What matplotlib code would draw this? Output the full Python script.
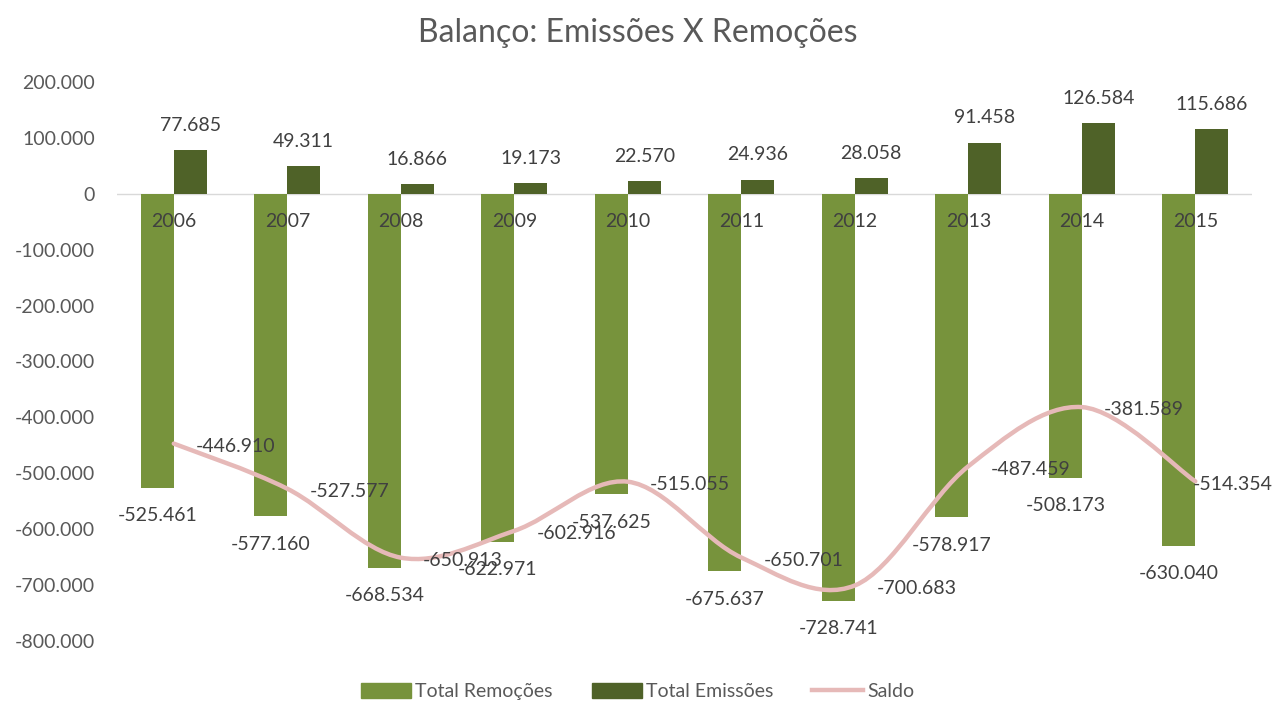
import numpy as np
import matplotlib
matplotlib.use("Agg")
import matplotlib.pyplot as plt
from matplotlib.path import Path
from matplotlib.patches import PathPatch, Patch
from matplotlib.lines import Line2D

plt.rcParams["font.family"] = ["Lato", "DejaVu Sans"]

anos = ["2006", "2007", "2008", "2009", "2010", "2011", "2012", "2013", "2014", "2015"]
remocoes = [-525461, -577160, -668534, -622971, -537625, -675637, -728741, -578917, -508173, -630040]
emissoes = [77685, 49311, 16866, 19173, 22570, 24936, 28058, 91458, 126584, 115686]
saldo = [-446910, -527577, -650913, -602916, -515055, -650701, -700683, -487459, -381589, -514354]

c_rem = "#77933C"
c_emi = "#4F6228"
c_sal = "#E6B9B8"
c_txt = "#595959"


def fmt(v):
    return f"{v:,.0f}".replace(",", ".")


fig = plt.figure(figsize=(12.75, 7.02), dpi=100)
ax = fig.add_axes([0.0918, 0.0869, 0.8902, 0.7963])

x = np.arange(len(anos))
w = 0.29
ax.bar(x - w / 2, remocoes, w, color=c_rem, zorder=2)
ax.bar(x + w / 2, emissoes, w, color=c_emi, zorder=2)

# smoothed line (Excel style bezier through the data points)
pts = np.column_stack([x, saldo]).astype(float)
ext = np.vstack([pts[0], pts, pts[-1]])
verts = [tuple(pts[0])]
codes = [Path.MOVETO]
for i in range(len(pts) - 1):
    p0, p1, p2, p3 = ext[i], ext[i + 1], ext[i + 2], ext[i + 3]
    c1 = p1 + (p2 - p0) / 6
    c2 = p2 - (p3 - p1) / 6
    verts += [tuple(c1), tuple(c2), tuple(p2)]
    codes += [Path.CURVE4] * 3
ax.add_patch(PathPatch(Path(verts, codes), facecolor="none", edgecolor=c_sal,
                       lw=3.2, zorder=3, capstyle="round"))

ax.axhline(0, color="#D9D9D9", lw=1, zorder=1)
ax.set_xlim(-0.5, len(anos) - 0.5)
ax.set_ylim(-800000, 200000)
ax.set_yticks(np.arange(-800000, 200001, 100000))
ax.set_yticklabels([fmt(v) for v in np.arange(-800000, 200001, 100000)])
ax.set_xticks([])
ax.tick_params(axis="y", length=0, pad=16, labelsize=14, labelcolor=c_txt)
for s in ax.spines.values():
    s.set_visible(False)

lbl = dict(fontsize=14, color="#404040", textcoords="offset points", zorder=4)
for i in range(len(anos)):
    ax.annotate(anos[i], (x[i], 0), xytext=(0, -20), ha="center", va="center", **lbl)
    ax.annotate(fmt(emissoes[i]), (x[i] + w / 2, emissoes[i]), xytext=(0, 18),
                ha="center", va="center", **lbl)
    ax.annotate(fmt(remocoes[i]), (x[i] - w / 2, remocoes[i]), xytext=(0, -20),
                ha="center", va="center", **lbl)
    dx = 16 if i < len(anos) - 1 else -2
    ax.annotate(fmt(saldo[i]), (x[i], saldo[i]), xytext=(dx, -2),
                ha="left", va="center", **lbl)

fig.suptitle("Balanço: Emissões X Remoções", y=0.975, fontsize=23, color=c_txt)

handles = [Patch(color=c_rem), Patch(color=c_emi), Line2D([], [], color=c_sal, lw=3.2)]
fig.legend(handles, ["Total Remoções", "Total Emissões", "Saldo"], loc="center",
           bbox_to_anchor=(0.5, 0.015), ncol=3, frameon=False, fontsize=14,
           handlelength=2.6, handleheight=0.8, handletextpad=0.2, columnspacing=2.0,
           labelcolor=c_txt)

fig.savefig("out.png", dpi=100)
